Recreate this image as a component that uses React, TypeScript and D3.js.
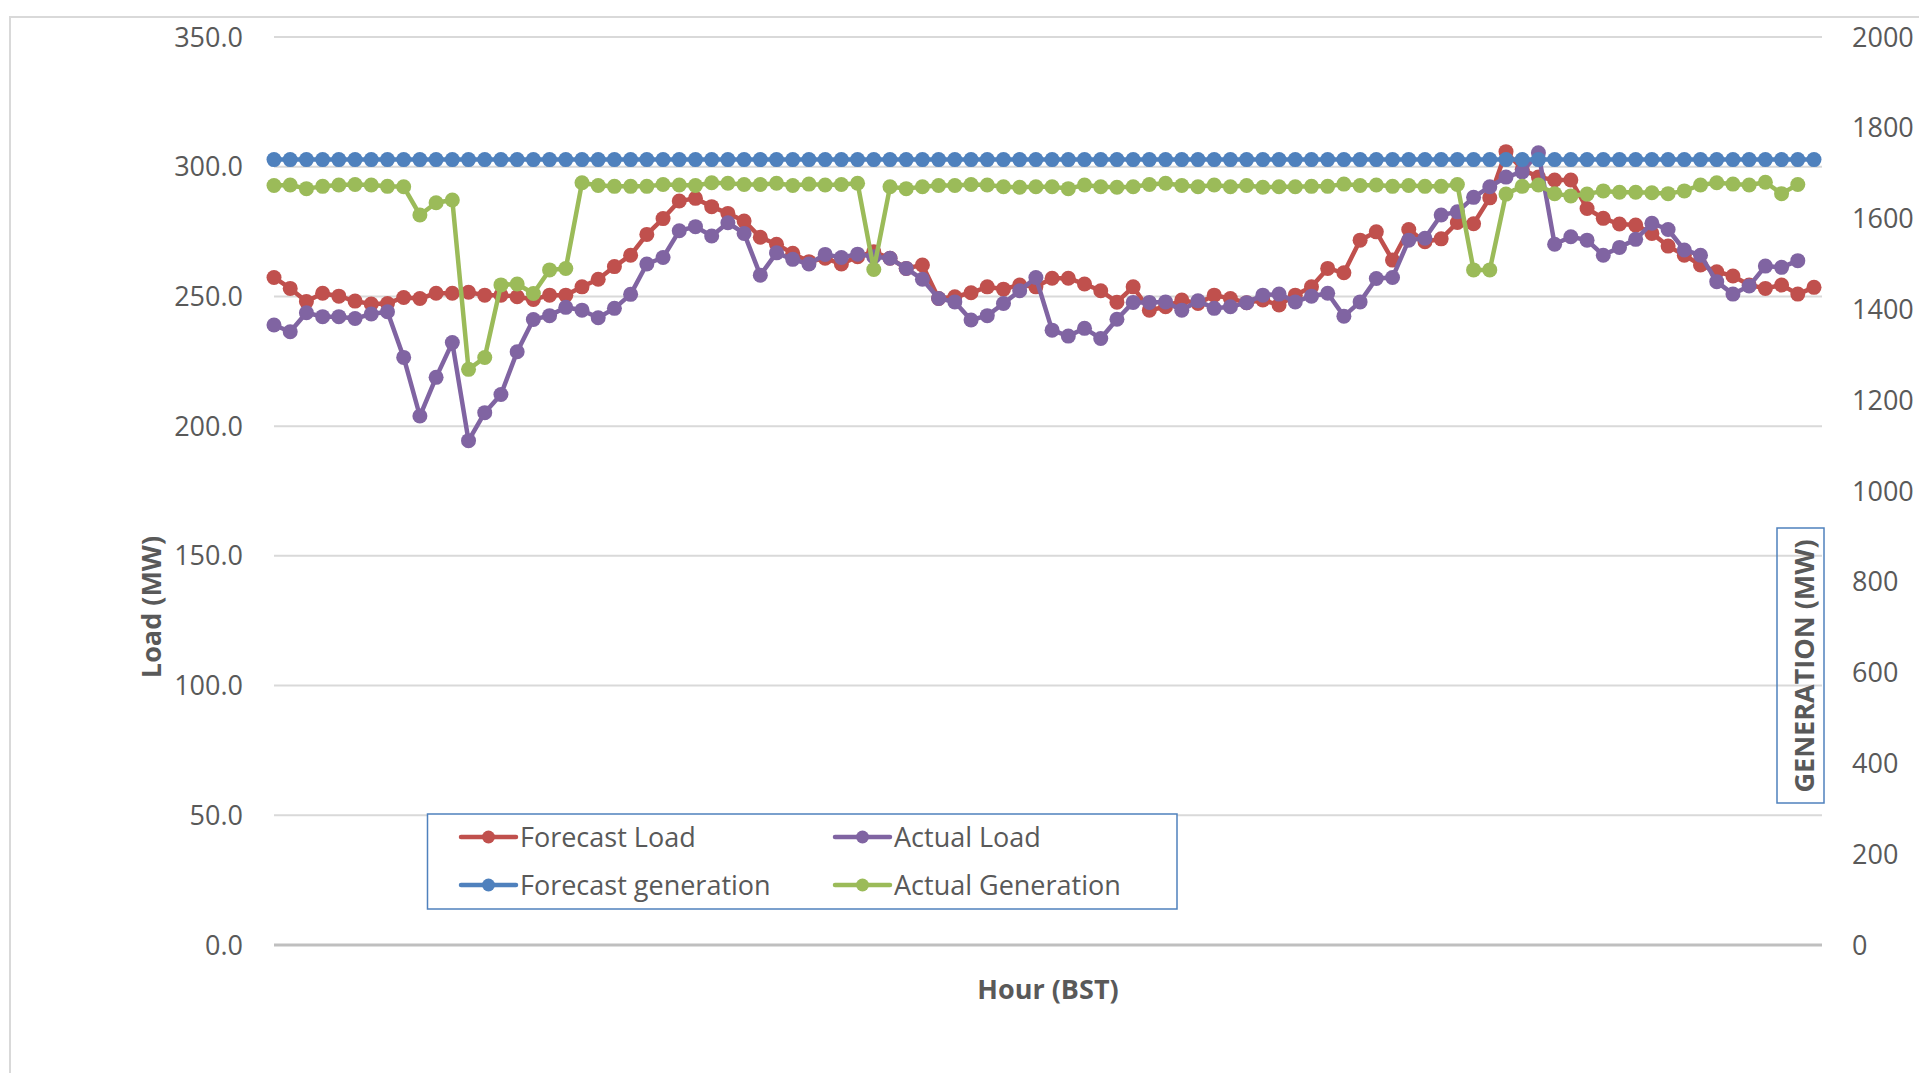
import React, { useEffect, useRef } from 'react';
import * as d3 from 'd3';

// 15-minute slots over the day (no tick labels are shown on the category axis)
const slotCount = 96;

const forecastLoad = [
  257.3, 253.1, 248.0, 251.2, 250.1, 248.2, 247.1, 247.3, 249.6, 249.2, 251.2, 251.2,
  251.6, 250.5, 250.5, 249.9, 248.8, 250.5, 250.5, 253.7, 256.6, 261.5, 265.9, 273.9,
  280.0, 286.8, 287.8, 284.6, 282.0, 279.1, 272.8, 270.1, 266.6, 263.4, 264.7, 262.5,
  265.3, 267.2, 264.7, 260.8, 262.1, 249.2, 249.9, 251.4, 253.7, 252.8, 254.4, 253.7,
  257.0, 257.0, 254.8, 252.2, 247.8, 253.7, 244.7, 246.0, 248.6, 247.3, 250.5, 249.2,
  247.6, 248.6, 246.7, 250.5, 253.7, 260.8, 259.1, 271.7, 274.9, 264.0, 275.8, 271.1,
  272.2, 278.5, 278.0, 288.0, 305.8, 299.0, 296.0, 294.9, 294.9, 283.9, 280.1, 277.9,
  277.5, 274.3, 269.4, 265.9, 262.1, 259.5, 257.9, 254.4, 253.1, 254.4, 250.9, 253.5,
];

const actualLoad = [
  239.0, 236.4, 243.7, 242.2, 242.2, 241.5, 243.2, 244.1, 226.5, 203.9, 218.8, 232.2,
  194.4, 205.2, 212.2, 228.7, 241.1, 242.6, 245.8, 244.7, 241.8, 245.4, 250.8, 262.5,
  265.0, 275.3, 276.9, 273.3, 278.4, 274.3, 258.2, 266.8, 264.3, 262.5, 266.2, 265.0,
  266.3, 265.3, 264.7, 260.8, 256.6, 249.2, 247.9, 240.9, 242.6, 247.3, 252.2, 257.3,
  237.0, 234.7, 237.7, 233.8, 241.2, 247.7, 247.7, 247.9, 244.7, 248.3, 245.4, 246.0,
  247.6, 250.5, 250.9, 247.9, 250.1, 251.2, 242.4, 247.9, 256.9, 257.3, 271.7, 272.4,
  281.4, 282.6, 288.2, 292.3, 296.0, 298.0, 305.4, 270.1, 273.0, 271.7, 265.9, 268.9,
  272.0, 278.2, 275.8, 267.9, 265.9, 255.7, 250.9, 254.0, 261.7, 261.2, 263.8,
];

const forecastGeneration = [
  1730, 1730, 1730, 1730, 1730, 1730, 1730, 1730, 1730, 1730, 1730, 1730,
  1730, 1730, 1730, 1730, 1730, 1730, 1730, 1730, 1730, 1730, 1730, 1730,
  1730, 1730, 1730, 1730, 1730, 1730, 1730, 1730, 1730, 1730, 1730, 1730,
  1730, 1730, 1730, 1730, 1730, 1730, 1730, 1730, 1730, 1730, 1730, 1730,
  1730, 1730, 1730, 1730, 1730, 1730, 1730, 1730, 1730, 1730, 1730, 1730,
  1730, 1730, 1730, 1730, 1730, 1730, 1730, 1730, 1730, 1730, 1730, 1730,
  1730, 1730, 1730, 1730, 1730, 1730, 1730, 1730, 1730, 1730, 1730, 1730,
  1730, 1730, 1730, 1730, 1730, 1730, 1730, 1730, 1730, 1730, 1730, 1730,
];

const actualGeneration = [
  1673, 1674, 1666, 1671, 1674, 1675, 1674, 1671, 1670, 1608, 1635, 1641,
  1268, 1294, 1454, 1456, 1435, 1487, 1490, 1679, 1673, 1671, 1671, 1671,
  1675, 1674, 1673, 1679, 1678, 1675, 1675, 1678, 1673, 1676, 1674, 1675,
  1678, 1488, 1670, 1666, 1670, 1673, 1673, 1675, 1674, 1670, 1669, 1670,
  1670, 1666, 1674, 1670, 1669, 1670, 1675, 1678, 1673, 1670, 1674, 1670,
  1673, 1669, 1670, 1670, 1671, 1671, 1676, 1673, 1674, 1671, 1673, 1671,
  1671, 1675, 1487, 1487, 1654, 1671, 1674, 1655, 1650, 1654, 1661, 1658,
  1658, 1657, 1655, 1661, 1674, 1679, 1676, 1674, 1680, 1655, 1675,
];

const loadTicks = [0, 50, 100, 150, 200, 250, 300, 350];
const generationTicks = [0, 200, 400, 600, 800, 1000, 1200, 1400, 1600, 1800, 2000];

const legendNames = ['Forecast Load', 'Actual Load', 'Forecast generation', 'Actual Generation'];

const W = 1919;
const H = 1073;
const FONT = "'Open Sans', 'Noto Sans', sans-serif";
const TEXT = '#595959';

const App: React.FC = () => {
  const svgRef = useRef<SVGSVGElement>(null);

  useEffect(() => {
    if (!svgRef.current) return;
    const svg = d3.select(svgRef.current);
    svg.selectAll('*').remove();

    const plot = { left: 274, right: 1822, top: 37, bottom: 945 };

    const x = d3.scaleLinear().domain([0, slotCount - 1]).range([plot.left, 1814]);
    const yLoad = d3.scaleLinear().domain([0, 350]).range([plot.bottom, plot.top]);
    const yGen = d3.scaleLinear().domain([0, 2000]).range([plot.bottom, plot.top]);

    // Chart area border (runs off the page on the right and bottom)
    svg.append('rect')
      .attr('x', 10).attr('y', 17)
      .attr('width', 2400).attr('height', 2000)
      .attr('fill', 'none')
      .attr('stroke', '#d9d9d9')
      .attr('stroke-width', 2);

    // Gridlines
    svg.append('g')
      .selectAll('line')
      .data(loadTicks.filter(t => t > 0))
      .join('line')
      .attr('x1', plot.left).attr('x2', plot.right)
      .attr('y1', d => yLoad(d)).attr('y2', d => yLoad(d))
      .attr('stroke', '#d9d9d9')
      .attr('stroke-width', 2);

    // Baseline
    svg.append('line')
      .attr('x1', plot.left).attr('x2', plot.right)
      .attr('y1', yLoad(0)).attr('y2', yLoad(0))
      .attr('stroke', '#bfbfbf')
      .attr('stroke-width', 3);

    // Left tick labels
    svg.append('g')
      .selectAll('text')
      .data(loadTicks)
      .join('text')
      .attr('x', 243)
      .attr('y', d => yLoad(d) + 9.5)
      .attr('text-anchor', 'end')
      .attr('font-family', FONT)
      .attr('font-size', 27)
      .attr('fill', TEXT)
      .text(d => d3.format('.1f')(d));

    // Right tick labels
    svg.append('g')
      .selectAll('text')
      .data(generationTicks)
      .join('text')
      .attr('x', 1852)
      .attr('y', d => yGen(d) + 9.5)
      .attr('text-anchor', 'start')
      .attr('font-family', FONT)
      .attr('font-size', 27)
      .attr('fill', TEXT)
      .text(d => String(d));

    // Axis titles
    svg.append('text')
      .attr('transform', 'translate(161,607) rotate(-90)')
      .attr('text-anchor', 'middle')
      .attr('font-family', FONT)
      .attr('font-weight', 'bold')
      .attr('font-size', 27)
      .attr('fill', TEXT)
      .text('Load (MW)');

    svg.append('text')
      .attr('x', (plot.left + plot.right) / 2)
      .attr('y', 999)
      .attr('text-anchor', 'middle')
      .attr('font-family', FONT)
      .attr('font-weight', 'bold')
      .attr('font-size', 27)
      .attr('fill', TEXT)
      .text('Hour (BST)');

    svg.append('rect')
      .attr('x', 1777).attr('y', 528)
      .attr('width', 47).attr('height', 275)
      .attr('fill', 'none')
      .attr('stroke', '#4f81bd')
      .attr('stroke-width', 1.5);

    svg.append('text')
      .attr('transform', 'translate(1814,666) rotate(-90)')
      .attr('text-anchor', 'middle')
      .attr('font-family', FONT)
      .attr('font-weight', 'bold')
      .attr('font-size', 27)
      .attr('fill', TEXT)
      .text('GENERATION (MW)');

    // Series
    const series = [
      { name: legendNames[0], values: forecastLoad, y: yLoad, color: '#c0504d' },
      { name: legendNames[1], values: actualLoad, y: yLoad, color: '#8064a2' },
      { name: legendNames[2], values: forecastGeneration, y: yGen, color: '#4f81bd' },
      { name: legendNames[3], values: actualGeneration, y: yGen, color: '#9bbb59' },
    ];

    series.forEach(s => {
      const line = d3.line<number>()
        .x((_, i) => x(i))
        .y(d => s.y(d));
      const g = svg.append('g');
      g.append('path')
        .datum(s.values)
        .attr('fill', 'none')
        .attr('stroke', s.color)
        .attr('stroke-width', 4.5)
        .attr('stroke-linejoin', 'round')
        .attr('stroke-linecap', 'round')
        .attr('d', line);
      g.selectAll('circle')
        .data(s.values)
        .join('circle')
        .attr('cx', (_, i) => x(i))
        .attr('cy', d => s.y(d))
        .attr('r', 7.5)
        .attr('fill', s.color);
    });

    // Legend
    const legend = svg.append('g');
    legend.append('rect')
      .attr('x', 427.5).attr('y', 814)
      .attr('width', 749.5).attr('height', 95)
      .attr('fill', '#ffffff')
      .attr('stroke', '#4f81bd')
      .attr('stroke-width', 1.5);

    const legendOrder = [0, 1, 2, 3];
    legendOrder.forEach(k => {
      const s = series[k];
      const col = k % 2;
      const row = Math.floor(k / 2);
      const lx = col === 0 ? 461 : 835;
      const ly = row === 0 ? 837 : 885;
      legend.append('line')
        .attr('x1', lx).attr('x2', lx + 55)
        .attr('y1', ly).attr('y2', ly)
        .attr('stroke', s.color)
        .attr('stroke-width', 4.5)
        .attr('stroke-linecap', 'round');
      legend.append('circle')
        .attr('cx', lx + 27.5).attr('cy', ly)
        .attr('r', 6.5)
        .attr('fill', s.color);
      legend.append('text')
        .attr('x', lx + 59)
        .attr('y', ly + 10)
        .attr('font-family', FONT)
        .attr('font-size', 27)
        .attr('fill', TEXT)
        .text(s.name);
    });
  }, []);

  return (
    <div style={{ position: 'absolute', left: 0, top: 0, width: W, height: H, background: '#ffffff' }}>
      <svg ref={svgRef} width={W} height={H} style={{ display: 'block' }} />
    </div>
  );
};

export default App;
